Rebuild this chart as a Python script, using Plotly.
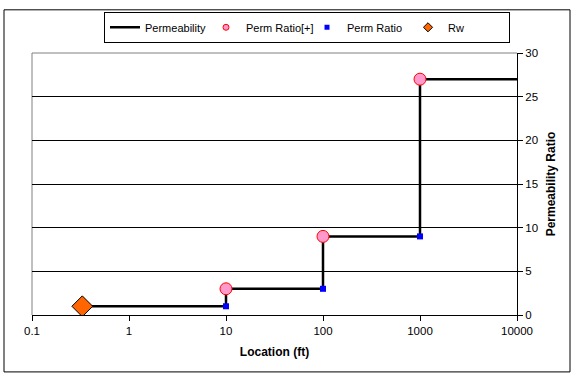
import plotly.graph_objects as go

# Data
perm_x = [0.33, 10, 100, 1000, 10000]
perm_y = [1, 3, 9, 27, 27]
ratio_plus_x = [10, 100, 1000]
ratio_plus_y = [3, 9, 27]
ratio_x = [10, 100, 1000]
ratio_y = [1, 3, 9]
rw_x = [0.33]
rw_y = [1]
xtick_vals = [0.1, 1, 10, 100, 1000, 10000]
xtick_text = ["0.1", "1", "10", "100", "1000", "10000"]

FONT = "Liberation Sans, Arial, sans-serif"

fig = go.Figure()
fig.add_trace(go.Scatter(x=perm_x, y=perm_y, mode="lines", line_shape="hv",
                         line=dict(color="black", width=2.5), name="Permeability"))
fig.add_trace(go.Scatter(x=ratio_plus_x, y=ratio_plus_y, mode="markers", name="Perm Ratio[+]",
                         showlegend=False,
                         marker=dict(symbol="circle", size=12, color="#FF99CC",
                                     line=dict(color="#FF0000", width=1))))
fig.add_trace(go.Scatter(x=ratio_x, y=ratio_y, mode="markers", name="Perm Ratio",
                         showlegend=False,
                         marker=dict(symbol="square", size=6, color="#0000FF",
                                     line=dict(width=0))))
fig.add_trace(go.Scatter(x=rw_x, y=rw_y, mode="markers", name="Rw",
                         showlegend=False,
                         marker=dict(symbol="diamond", size=16, color="#FF6600",
                                     line=dict(color="black", width=1))))
# legend-only entries with small symbols (as in the original legend)
fig.add_trace(go.Scatter(x=[None], y=[None], mode="markers", name="Perm Ratio[+]",
                         marker=dict(symbol="circle", size=6, color="#FF99CC",
                                     line=dict(color="#FF0000", width=1))))
fig.add_trace(go.Scatter(x=[None], y=[None], mode="markers", name="Perm Ratio",
                         marker=dict(symbol="square", size=5, color="#0000FF",
                                     line=dict(width=0))))
fig.add_trace(go.Scatter(x=[None], y=[None], mode="markers", name="Rw",
                         marker=dict(symbol="diamond", size=7, color="#FF6600",
                                     line=dict(color="black", width=1))))

L, R, T, B = 32, 59, 48, 63
W, H = 576, 378
pw, ph = W - L - R, H - T - B

def px(x):
    return (x - L) / pw

def py(y):
    return 1 - (y - T) / ph

fig.update_layout(
    width=W, height=H,
    margin=dict(l=L, r=R, t=T, b=B),
    paper_bgcolor="white", plot_bgcolor="white",
    font=dict(family=FONT, size=11, color="black"),
    showlegend=True,
    legend=dict(orientation="h", x=px(104), y=py(6), xanchor="left", yanchor="top",
                bordercolor="black", borderwidth=1, bgcolor="white",
                font=dict(family=FONT, size=11), itemwidth=30, tracegroupgap=0,
                entrywidth=56, entrywidthmode="pixels"),
    xaxis=dict(type="log", range=[-1, 4], tickvals=xtick_vals, ticktext=xtick_text,
               showgrid=False, showline=True, linecolor="black", linewidth=1,
               ticks="outside", ticklen=5, tickcolor="black", zeroline=False,
               tickfont=dict(family=FONT, size=11.5),
               title=dict(text="<b>Location (ft)</b>", font=dict(family=FONT, size=12), standoff=11)),
    yaxis=dict(side="right", range=[0, 30], dtick=5, showgrid=True, gridcolor="black",
               gridwidth=1, showline=True, linecolor="black", linewidth=1,
               ticks="outside", ticklen=5, tickcolor="black", zeroline=False,
               tickfont=dict(family=FONT, size=11.5),
               title=dict(text="<b>Permeability Ratio</b>", font=dict(family=FONT, size=12), standoff=9)),
    shapes=[
        dict(type="line", xref="paper", yref="paper", x0=0, x1=0, y0=0, y1=1,
             line=dict(color="#808080", width=1), layer="below"),
        dict(type="line", xref="paper", yref="paper", x0=0, x1=1, y0=1, y1=1,
             line=dict(color="#808080", width=1), layer="below"),
        dict(type="rect", xref="paper", yref="paper", x0=px(4), x1=px(570), y0=py(4), y1=py(373),
             line=dict(color="black", width=1), fillcolor="rgba(0,0,0,0)", layer="below"),
    ],
)

fig.write_html("out.html")
